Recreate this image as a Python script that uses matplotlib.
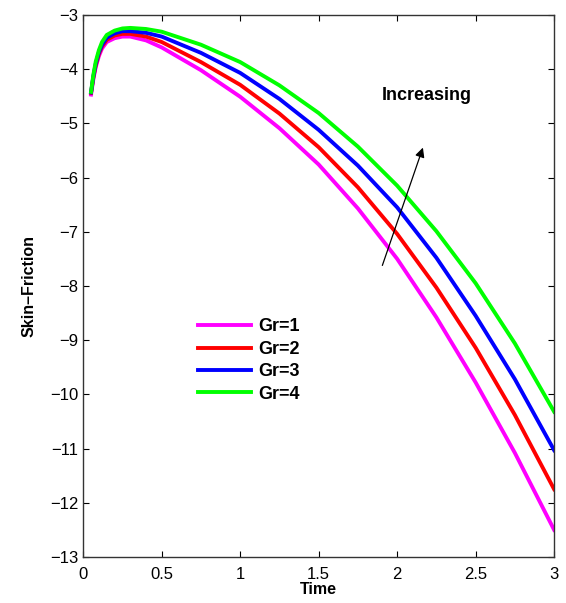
import matplotlib
matplotlib.use("Agg")
import matplotlib.pyplot as plt

plt.rcParams['font.family'] = ['Liberation Sans', 'DejaVu Sans']

t = [0.05, 0.065, 0.08, 0.1, 0.12, 0.15, 0.2, 0.25, 0.3, 0.4, 0.5, 0.75, 1.0, 1.25, 1.5, 1.75, 2.0, 2.25, 2.5, 2.75, 3.0]
gr1 = [-4.47, -4.18, -3.96, -3.76, -3.62, -3.50, -3.43, -3.40, -3.40, -3.47, -3.60, -4.02, -4.51, -5.09, -5.76, -6.57, -7.50, -8.58, -9.78, -11.08, -12.50]
gr2 = [-4.44, -4.15, -3.93, -3.72, -3.58, -3.46, -3.38, -3.35, -3.35, -3.40, -3.50, -3.87, -4.29, -4.82, -5.44, -6.18, -7.04, -8.03, -9.14, -10.38, -11.75]
gr3 = [-4.43, -4.13, -3.90, -3.69, -3.55, -3.42, -3.34, -3.30, -3.30, -3.33, -3.40, -3.70, -4.07, -4.55, -5.12, -5.78, -6.55, -7.48, -8.55, -9.72, -11.03]
gr4 = [-4.42, -4.10, -3.86, -3.65, -3.50, -3.37, -3.29, -3.25, -3.24, -3.26, -3.31, -3.55, -3.87, -4.30, -4.81, -5.43, -6.15, -6.99, -7.95, -9.06, -10.32]

series = [("Gr=1", gr1, "#ff00ff"), ("Gr=2", gr2, "#ff0000"),
          ("Gr=3", gr3, "#0000ff"), ("Gr=4", gr4, "#00ff00")]

xticks = [0, 0.5, 1, 1.5, 2, 2.5, 3]
xticklabels = ["0", "0.5", "1", "1.5", "2", "2.5", "3"]
yticks = list(range(-13, -2))

fig = plt.figure(figsize=(5.66, 6.03), dpi=100)
ax = fig.add_axes([0.147, 0.0763, 0.832, 0.899])

for name, vals, col in series:
    ax.plot(t, vals, color=col, lw=2.8, label=name, solid_joinstyle='round')

ax.set_xlim(0, 3)
ax.set_ylim(-13, -3)
ax.set_xticks(xticks)
ax.set_xticklabels(xticklabels)
ax.set_yticks(yticks)
ax.set_yticklabels([f"\u2212{abs(v)}" for v in yticks])
ax.tick_params(direction='in', top=True, right=True, labelsize=12, length=4, width=0.8)
ax.tick_params(axis='x', pad=7)
for s in ax.spines.values():
    s.set_linewidth(1.0)
    s.set_color('#333333')

ax.set_xlabel("Time", fontsize=11.5, fontweight='bold', labelpad=0)
ax.set_ylabel("Skin\u2013Friction", fontsize=11.5, fontweight='bold', labelpad=10)

leg = ax.legend(loc='upper left', bbox_to_anchor=(0.21, 0.47), frameon=False,
                prop={'weight': 'bold', 'size': 13}, handlelength=2.9,
                handletextpad=0.4, labelspacing=0.3)

ax.text(2.19, -4.48, "Increasing", fontsize=13, fontweight='bold', ha='center', va='center')
ax.annotate("", xy=(2.17, -5.40), xytext=(1.90, -7.67),
            arrowprops=dict(arrowstyle='-|>', color='black', lw=0.9, mutation_scale=14))

fig.savefig("out.png", dpi=100)
